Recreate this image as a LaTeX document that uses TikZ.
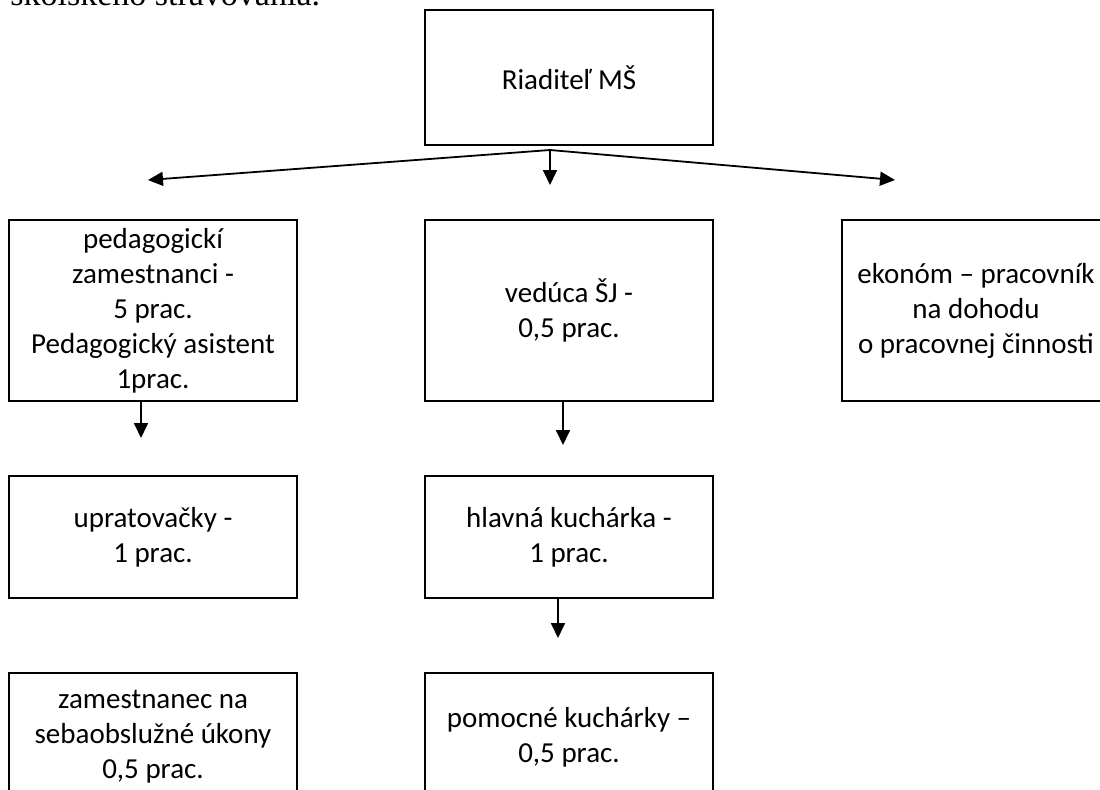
\documentclass[tikz,border=0pt]{standalone}
\usepackage{fontspec}
\setmainfont{Carlito}
\newfontfamily\headfont{Liberation Serif}
\usetikzlibrary{arrows.meta}

\begin{document}
\begin{tikzpicture}[x=0.5pt,y=-0.5pt,
    box/.style={draw,line width=1.1pt,minimum width=144pt,align=center,
      inner sep=0pt,font=\fontsize{14.5}{17.5}\selectfont},
    arr/.style={line width=0.9pt,-{Triangle[length=7.5pt,width=7pt]}}]
  \useasboundingbox (0,0) rectangle (1100,789);
  % cut-off line of the page above
  \node[anchor=base west,inner sep=0pt,font=\headfont\fontsize{17}{20}\selectfont]
    (head) at (10,5) {školského stravovania.};
  % top
  \node[box,minimum height=67.5pt] (riad) at (569,77.5) {Riaditeľ MŠ};
  % first row
  \node[box,minimum height=90.5pt] (pedag) at (153,310.5)
    {pedagogickí\\zamestnanci -\\5 prac.\\Pedagogický asistent\\1prac.};
  \node[box,minimum height=90.5pt] (ved) at (569,310.5) {vedúca ŠJ -\\0,5 prac.};
  \node[box,minimum height=90.5pt,minimum width=134pt] (ekon) at (976,310.5)
    {ekonóm – pracovník\\na dohodu\\o pracovnej činnosti};
  % second row
  \node[box,minimum height=61pt] (uprat) at (153,537) {upratovačky -\\1 prac.};
  \node[box,minimum height=61pt] (hlav) at (569,537) {hlavná kuchárka -\\1 prac.};
  % third row
  \node[box,minimum height=64pt] (zam) at (153,737)
    {zamestnanec na\\sebaobslužné úkony\\0,5 prac.};
  \node[box,minimum height=64pt] (pom) at (569,737) {pomocné kuchárky –\\0,5 prac.};
  % fork under the top box
  \coordinate (fork) at (550,150);
  \coordinate (tipL) at (148,180);
  \coordinate (tipM) at (550,185);
  \coordinate (tipR) at (895,180);
  \draw[arr] (fork) -- (tipL);
  \draw[arr] (fork) -- (tipR);
  \draw[arr] (fork) -- (tipM);
  % short arrows
  \coordinate (a1) at (141,438);
  \coordinate (a2) at (563,445);
  \coordinate (a3) at (558,638);
  \draw[arr] (pedag.south -| a1) -- (a1);
  \draw[arr] (ved.south -| a2) -- (a2);
  \draw[arr] (hlav.south -| a3) -- (a3);
\end{tikzpicture}
\end{document}
